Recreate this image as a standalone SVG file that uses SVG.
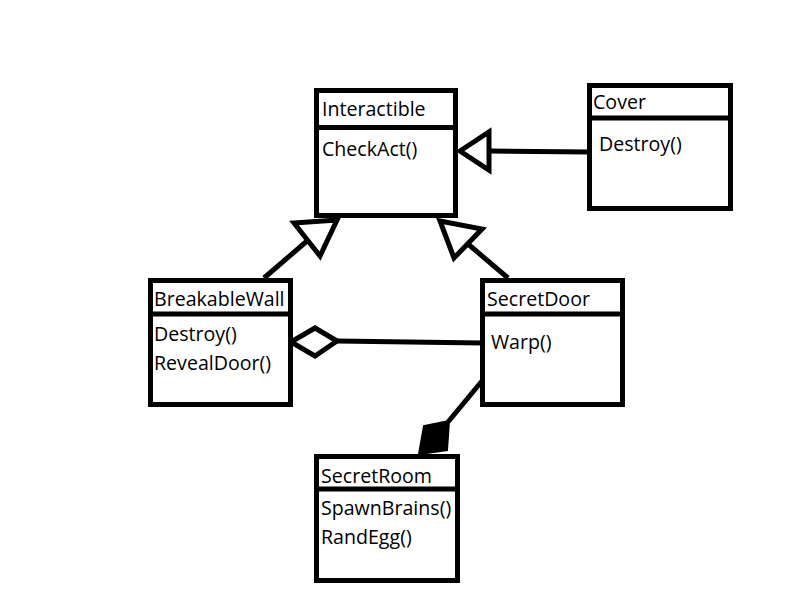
<svg xmlns="http://www.w3.org/2000/svg" width="800" height="600" viewBox="0 0 800 600">
<style>
.box{fill:#fff;stroke:#000;stroke-width:5}
.sep{stroke:#000;stroke-width:5}
.t{font-family:"Open Sans","Noto Sans",sans-serif;font-size:19.6px;fill:#000}
.ln{stroke:#000;stroke-width:5;fill:none}
.hollow{fill:#fff;stroke:#000;stroke-width:5;stroke-linejoin:miter}
</style>
<rect width="800" height="600" fill="#fff"/>
<g id="connectors">
<line class="ln" x1="490" y1="151" x2="590" y2="152"/>
<polygon class="hollow" points="460,151 489,132 489,170"/>
<line class="ln" x1="264" y1="278" x2="307" y2="241"/>
<polygon class="hollow" points="294,223 337,220 320,256"/>
<line class="ln" x1="508" y1="278" x2="468" y2="244"/>
<polygon class="hollow" points="440,221 482,229 454,258"/>
<line class="ln" x1="337" y1="341" x2="482" y2="343"/>
<polygon class="hollow" points="291,342 315,328 337,341 315,356"/>
<line class="ln" x1="482" y1="381" x2="448" y2="422"/>
<polygon fill="#000" stroke="#000" stroke-width="2" points="449,421 424,426 419,454 447,450"/>
</g>
<g id="Interactible">
<rect class="box" x="316.5" y="90.5" width="139" height="125"/>
<line class="sep" x1="316" y1="127.5" x2="456" y2="127.5"/>
<text class="t" x="322" y="116">Interactible</text>
<text class="t" x="322" y="156">CheckAct()</text>
</g>
<g id="Cover">
<rect class="box" x="589.5" y="85.5" width="141" height="123"/>
<line class="sep" x1="589" y1="118" x2="731" y2="118"/>
<text class="t" x="593" y="109">Cover</text>
<text class="t" x="599" y="151">Destroy()</text>
</g>
<g id="BreakableWall">
<rect class="box" x="150.5" y="280.5" width="140" height="124"/>
<line class="sep" x1="150" y1="314" x2="291" y2="314"/>
<text class="t" x="154" y="306">BreakableWall</text>
<text class="t" x="154" y="341">Destroy()</text>
<text class="t" x="154" y="370">RevealDoor()</text>
</g>
<g id="SecretDoor">
<rect class="box" x="482.5" y="280.5" width="140" height="124"/>
<line class="sep" x1="482" y1="314" x2="623" y2="314"/>
<text class="t" x="487" y="306">SecretDoor</text>
<text class="t" x="491" y="349">Warp()</text>
</g>
<g id="SecretRoom">
<rect class="box" x="316.5" y="456.5" width="141" height="124"/>
<line class="sep" x1="316" y1="489" x2="458" y2="489"/>
<text class="t" x="321" y="483">SecretRoom</text>
<text class="t" x="321" y="515">SpawnBrains()</text>
<text class="t" x="321" y="544">RandEgg()</text>
</g>
</svg>
